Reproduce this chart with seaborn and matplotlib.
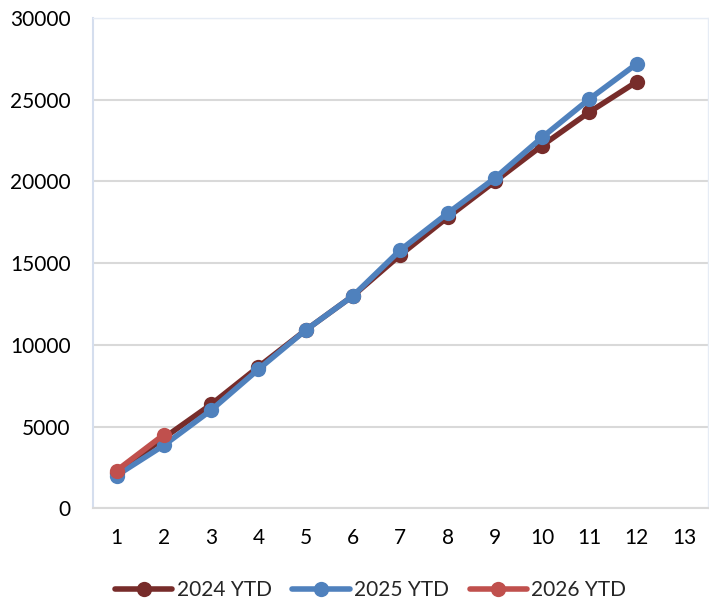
import pandas as pd
import seaborn as sns
import matplotlib.pyplot as plt

# monthly YTD totals
months_2024 = [1, 2, 3, 4, 5, 6, 7, 8, 9, 10, 11, 12]
ytd_2024 = [2150, 4300, 6350, 8650, 10900, 13000, 15500, 17800, 20000, 22200, 24250, 26100]
months_2025 = [1, 2, 3, 4, 5, 6, 7, 8, 9, 10, 11, 12]
ytd_2025 = [2000, 3850, 6000, 8500, 10900, 13000, 15800, 18050, 20200, 22700, 25050, 27200]
months_2026 = [1, 2]
ytd_2026 = [2300, 4500]
series_names = ['2024 YTD', '2025 YTD', '2026 YTD']
colors = ['#772C2A', '#4F81BD', '#C0504D']

df = pd.concat([
    pd.DataFrame({'month': months_2024, 'value': ytd_2024, 'series': series_names[0]}),
    pd.DataFrame({'month': months_2025, 'value': ytd_2025, 'series': series_names[1]}),
    pd.DataFrame({'month': months_2026, 'value': ytd_2026, 'series': series_names[2]}),
])

sns.set_style('white')
plt.rcParams['font.family'] = ['Lato', 'DejaVu Sans']

fig = plt.figure(figsize=(7.09, 6.05), dpi=100)
ax = fig.add_axes([0.131, 0.160, 0.867, 0.810])

sns.lineplot(data=df, x='month', y='value', hue='series', hue_order=series_names,
             palette=colors, marker='o', markersize=11, linewidth=4,
             markeredgewidth=0, ax=ax)

ax.set_xlim(0.5, 13.5)
ax.set_ylim(0, 30000)
ax.set_xticks(range(1, 14))
ax.set_yticks(range(0, 30001, 5000))
ax.yaxis.grid(True, color='#D9D9D9', linewidth=1.5)
ax.set_axisbelow(True)
ax.tick_params(axis='both', length=0, labelsize=15, colors='#000000')
ax.tick_params(axis='y', pad=16)
ax.tick_params(axis='x', pad=14)
ax.set_xlabel('')
ax.set_ylabel('')

for side in ['top', 'right']:
    ax.spines[side].set_color('#E6ECF5')
    ax.spines[side].set_linewidth(1)
ax.spines['left'].set_color('#D5DEEE')
ax.spines['left'].set_linewidth(1.5)
ax.spines['bottom'].set_color('#D9D9D9')
ax.spines['bottom'].set_linewidth(1.5)

ax.legend(loc='center', bbox_to_anchor=(0.452, -0.167), ncol=3, frameon=False,
          fontsize=15, handlelength=2.75, handletextpad=0.2, columnspacing=1.0,
          markerscale=1.0)

fig.savefig('out.png', dpi=100)
